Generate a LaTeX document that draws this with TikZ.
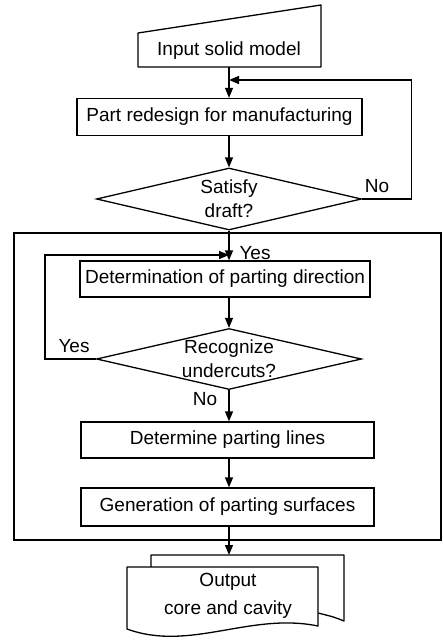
\documentclass[tikz,border=0pt]{standalone}
\usepackage{fontspec}
\setmainfont{Liberation Sans}
\usetikzlibrary{positioning, arrows.meta, shapes.geometric}
\tikzset{
  txt/.style={font=\fontsize{19}{24}\selectfont, align=center, inner sep=0pt},
  proc/.style={draw, line width=1.3pt, minimum width=#1, minimum height=37pt,
                inner sep=0pt, font=\fontsize{19}{24}\selectfont},
  dec/.style={draw, diamond, line width=1.3pt, minimum width=265pt,
              minimum height=62pt, inner sep=0pt},
  arr/.style={-{Triangle[length=10pt, width=8pt]}, line width=1.3pt},
  outl/.style={line width=1.3pt, line join=round},
}

\begin{document}
\begin{tikzpicture}[x=1pt, y=-1pt]
  \useasboundingbox (0,0) rectangle (442,642);

  % input
  \draw[outl] (138,33) -- (321,5) -- (321,67) -- (138,67) -- cycle;
  \node[txt] (input) at (229,51) {Input solid model};
  \coordinate (inbot) at (229,67);
  \coordinate (join) at (229,80);

  \node[proc=285pt] (redesign) at (219.5,117) {Part redesign for manufacturing};
  \node[dec, label={[txt]center:{Satisfy\\draft?}}] (draft) at (229,199) {};

  \draw[arr] (inbot) -- (redesign.north -| inbot);
  \draw[arr] (redesign.south -| draft.north) -- (draft.north);
  \draw[arr] (draft.east) -- ++(49,0) |- (join);
  \node[txt] (no1) at (377,186) {No};

  % parting block
  \node[draw, line width=1.3pt, minimum width=427pt, minimum height=307pt,
        inner sep=0pt] (frame) at (227.5,386.5) {};
  \coordinate (yesjoin) at (229,255);

  \node[proc=290pt, minimum height=36pt] (direction) at (225,279)
    {Determination of parting direction};
  \node[dec, minimum height=61pt, label={[txt]center:{Recognize\\undercuts?}}]
    (undercut) at (229,359) {};
  \node[proc=293pt, minimum height=36pt] (lines) at (227.5,440)
    {Determine parting lines};
  \node[proc=293pt, minimum height=38pt] (surfaces) at (227.5,507)
    {Generation of parting surfaces};

  \draw[arr] (draft.south) -- (direction.north -| draft.south);
  \node[txt] (yes1) at (255,253) {Yes};
  \draw[arr] (undercut.west) -- ++(-51,0) |- (yesjoin);
  \node[txt] (yes2) at (74,346) {Yes};
  \draw[arr] (direction.south -| undercut.north) -- (undercut.north);
  \draw[arr] (undercut.south) -- (lines.north -| undercut.south);
  \node[txt] (no2) at (205,399) {No};
  \draw[arr] (lines.south -| undercut.south) -- (surfaces.north -| undercut.south);

  % output documents
  \coordinate (doctop) at (229,555);
  \draw[outl] (151,567) -- (151,555) -- (344,555) -- (344,621)
    .. controls (334,617) .. (318,613);
  \draw[outl, fill=white] (127,567) -- (318,567) -- (318,626)
    .. controls (250,612) and (190,652) .. (127,629) -- cycle;
  \node[txt, font=\fontsize{19}{28}\selectfont] (output) at (228,596)
    {Output\\core and cavity};
  \draw[arr] (surfaces.south -| doctop) -- (doctop);
\end{tikzpicture}
\end{document}
